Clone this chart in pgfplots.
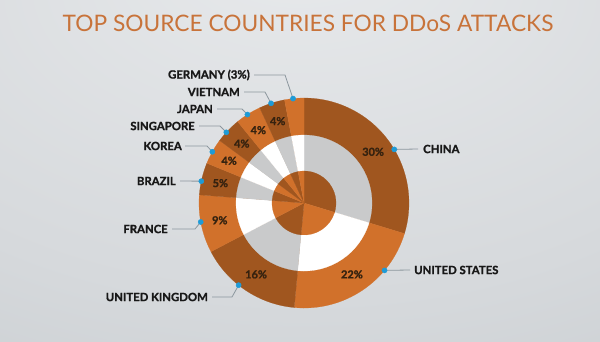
\documentclass[border=0pt]{standalone}
\usepackage{pgfplots}
\pgfplotsset{compat=1.18}
\usepackage{pgfplotstable}
\usepackage{fontspec}
\setmainfont{Lato}
\newfontfamily\labfont[BoldFeatures={FakeBold=1.3}]{Lato}

\definecolor{brownD}{HTML}{A0561F}
\definecolor{orangeL}{HTML}{D1712B}
\definecolor{ringgray}{HTML}{C9CACB}
\definecolor{dotblue}{HTML}{1E9BD7}
\definecolor{leader}{HTML}{8C979E}
\definecolor{titleor}{HTML}{C8733A}
\definecolor{pcttext}{HTML}{35220F}
\definecolor{labtext}{HTML}{181818}
\definecolor{bgA}{HTML}{E8EAEC}
\definecolor{bgB}{HTML}{D6D9DC}
\definecolor{bgC}{HTML}{BDC3C7}
\definecolor{bgD}{HTML}{AAB2B8}
\pgfdeclareradialshading{bgshade}{\pgfpoint{0bp}{35bp}}{color(0bp)=(bgA); color(40bp)=(bgB); color(80bp)=(bgC); color(100bp)=(bgD)}

\pgfplotstableread[col sep=comma]{
name,value,dotang,ex,ey,lx,ly,tx,side,inside
CHINA,30,30.7,418,149,418,149,423,west,1
UNITED STATES,22,-39.9,410,270,410,270,414,west,1
UNITED KINGDOM,16,-128.5,232,297,212,297,208,east,1
FRANCE,9,190.4,195,229,172,229,168,east,1
BRAZIL,5,168,180,181,180,181,176,east,1
KOREA,4,150.8,207,146,185,146,182,east,1
SINGAPORE,4,137.7,220,126,199,126,195,east,1
JAPAN,4,122.6,242,109,217,109,213,east,1
VIETNAM,4,108.3,265,92,244,92,240,east,1
GERMANY,3,96,285,75,254,75,250,east,0
}\data

\begin{document}
\begin{tikzpicture}
\begin{axis}[
  x=1bp, y=1bp, y dir=reverse,
  xmin=0, xmax=600, ymin=0, ymax=341,
  axis line style={draw=none}, ticks=none,
  axis background/.style={shading=bgshade},
  clip=true,
]
\pgfplotsextra{
  \coordinate (O) at (axis cs:304,203);
  \pgfplotstablegetrowsof{\data}
  \pgfmathtruncatemacro\N{\pgfplotsretval-1}
  \xdef\total{0}
  \foreach \i in {0,...,\N}{
    \pgfplotstablegetelem{\i}{value}\of{\data}
    \pgfmathsetmacro\t{\total+\pgfplotsretval}
    \xdef\total{\t}
  }
  \pgfmathsetmacro\unit{360/\total}
  \xdef\unit{\unit}
  % three layers: outer, middle, inner
  \foreach \R/\lay in {105/0,68/1,32/2}{
    \xdef\cum{0}
    \foreach \i in {0,...,\N}{
      \pgfplotstablegetelem{\i}{value}\of{\data}
      \let\v\pgfplotsretval
      \pgfmathsetmacro\a{90-\unit*\cum}
      \pgfmathsetmacro\b{90-\unit*(\cum+\v)}
      \pgfmathtruncatemacro\odd{mod(\i,2)}
      \ifnum\lay=1
        \ifnum\odd=0 \def\c{ringgray}\else\def\c{white}\fi
      \else
        \ifnum\odd=0 \def\c{brownD}\else\def\c{orangeL}\fi
      \fi
      \fill[\c, draw=\c, line width=0.2pt] (O) -- ([shift={(\a:\R bp)}]O) arc[start angle=\a, end angle=\b, radius=\R bp] -- cycle;
      \pgfmathsetmacro\nc{\cum+\v}
      \xdef\cum{\nc}
    }
  }
  % percentage labels and leader lines
  \xdef\cum{0}
  \foreach \i in {0,...,\N}{
    \pgfplotstablegetelem{\i}{value}\of{\data}\let\v\pgfplotsretval
    \pgfplotstablegetelem{\i}{inside}\of{\data}\let\ins\pgfplotsretval
    \pgfplotstablegetelem{\i}{dotang}\of{\data}\let\d\pgfplotsretval
    \pgfplotstablegetelem{\i}{ex}\of{\data}\let\ex\pgfplotsretval
    \pgfplotstablegetelem{\i}{ey}\of{\data}\let\ey\pgfplotsretval
    \pgfplotstablegetelem{\i}{lx}\of{\data}\let\lx\pgfplotsretval
    \pgfplotstablegetelem{\i}{ly}\of{\data}\let\ly\pgfplotsretval
    \pgfplotstablegetelem{\i}{tx}\of{\data}\let\tx\pgfplotsretval
    \pgfplotstablegetelem{\i}{side}\of{\data}\let\side\pgfplotsretval
    \pgfplotstablegetelem{\i}{name}\of{\data}\let\nm\pgfplotsretval
    \pgfmathsetmacro\m{90-\unit*(\cum+\v/2)}
    \ifnum\ins=1
      \node[font=\labfont\bfseries\fontsize{11}{12}\selectfont, text=pcttext, inner sep=0pt] at ([shift={(\m:86bp)}]O) {\v\%};
      \node[font=\labfont\bfseries\fontsize{11.4}{13}\selectfont, text=labtext, anchor=\side, inner sep=0pt] at (axis cs:\tx,\ly) {\nm};
    \else
      \node[font=\labfont\bfseries\fontsize{11.4}{13}\selectfont, text=labtext, anchor=\side, inner sep=0pt] at (axis cs:\tx,\ly) {\nm\ (\v\%)};
    \fi
    \draw[leader, line width=0.8bp] ([shift={(\d:105bp)}]O) -- (axis cs:\ex,\ey) -- (axis cs:\lx,\ly);
    \pgfmathsetmacro\nc{\cum+\v}
    \xdef\cum{\nc}
  }
  \node[font=\fontsize{22.8}{26}\selectfont, text=titleor] at (axis cs:308,23) {TOP SOURCE COUNTRIES FOR DDoS ATTACKS};
}
\addplot[only marks, mark=*, mark size=2.6bp, mark options={fill=dotblue, draw=dotblue}]
  table[x expr={304+105*cos(\thisrow{dotang})}, y expr={203-105*sin(\thisrow{dotang})}] {\data};
\end{axis}
\end{tikzpicture}
\end{document}
